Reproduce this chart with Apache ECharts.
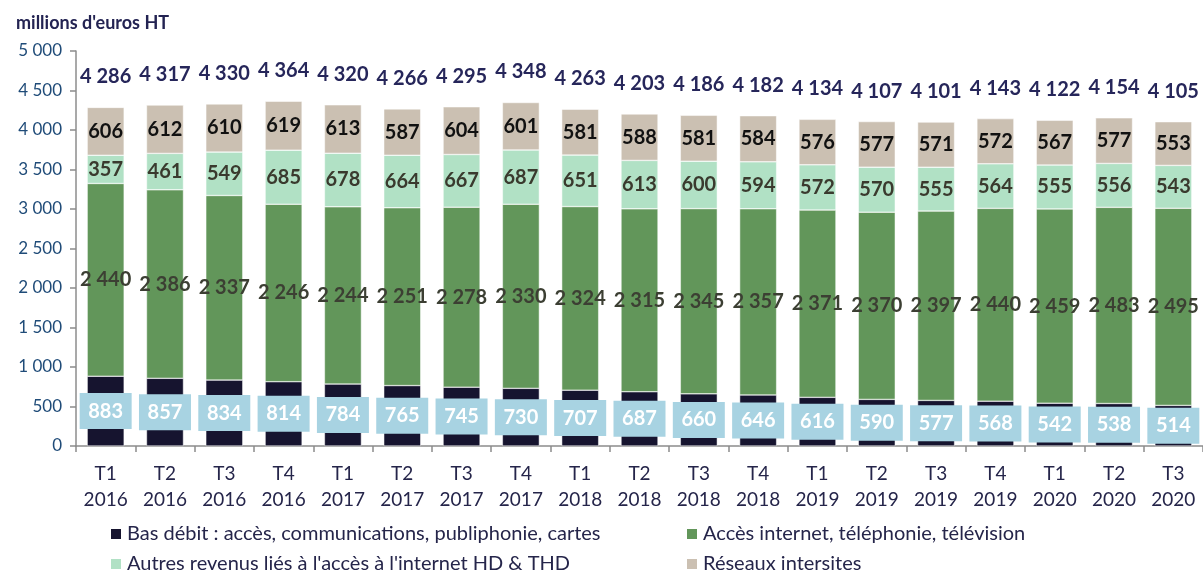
<!DOCTYPE html>
<html>
<head>
    <meta charset="utf-8" />
    <script src="https://cdn.jsdelivr.net/npm/echarts@6/dist/echarts.min.js"></script>
</head>
<body style="margin:0">
    <div id="main" style="width: 1203px; height: 574px;"></div>
    <script type="text/javascript">
        // données (millions d'euros HT)
        var categories = ['T1\n2016', 'T2\n2016', 'T3\n2016', 'T4\n2016', 'T1\n2017', 'T2\n2017', 'T3\n2017', 'T4\n2017',
            'T1\n2018', 'T2\n2018', 'T3\n2018', 'T4\n2018', 'T1\n2019', 'T2\n2019', 'T3\n2019', 'T4\n2019',
            'T1\n2020', 'T2\n2020', 'T3\n2020'];
        var basDebit = [883, 857, 834, 814, 784, 765, 745, 730, 707, 687, 660, 646, 616, 590, 577, 568, 542, 538, 514];
        var accesInternet = [2440, 2386, 2337, 2246, 2244, 2251, 2278, 2330, 2324, 2315, 2345, 2357, 2371, 2370, 2397, 2440, 2459, 2483, 2495];
        var autresRevenus = [357, 461, 549, 685, 678, 664, 667, 687, 651, 613, 600, 594, 572, 570, 555, 564, 555, 556, 543];
        var reseaux = [606, 612, 610, 619, 613, 587, 604, 601, 581, 588, 581, 584, 576, 577, 571, 572, 567, 577, 553];
        var totals = [4286, 4317, 4330, 4364, 4320, 4266, 4295, 4348, 4263, 4203, 4186, 4182, 4134, 4107, 4101, 4143, 4122, 4154, 4105];

        var names = ['Bas débit : accès, communications, publiphonie, cartes', 'Accès internet, téléphonie, télévision',
            "Autres revenus liés à l'accès à l'internet HD & THD", 'Réseaux intersites'];

        var FONT = 'Lato';

        function fmt(v) {
            return String(v).replace(/\B(?=(\d{3})+(?!\d))/g, ' ');
        }

        var myChart = echarts.init(document.getElementById('main'));

        function segment(name, data, color, labelColor, extra) {
            var label = {
                show: true,
                position: 'inside',
                fontFamily: FONT,
                fontWeight: 'bold',
                fontSize: 20,
                color: labelColor,
                formatter: function (p) { return fmt(p.value); }
            };
            if (extra) { for (var k in extra) label[k] = extra[k]; }
            return {
                name: name,
                type: 'bar',
                stack: 'total',
                barWidth: 37,
                itemStyle: { color: color, borderColor: '#ffffff', borderWidth: 0.5 },
                label: label,
                data: data
            };
        }

        // une légende par élément, placée en grille 2x2
        function legendItem(left, top, name) {
            return {
                left: left,
                top: top,
                padding: 0,
                itemWidth: 12,
                itemHeight: 12,
                icon: 'rect',
                textStyle: { fontFamily: FONT, fontSize: 20, color: '#25254a' },
                data: [name]
            };
        }

        var option = {
            animation: false,
            textStyle: { fontFamily: FONT },
            title: {
                text: "millions d'euros HT",
                left: 11,
                top: 9,
                textStyle: { fontFamily: FONT, fontSize: 18, fontWeight: 'bold', color: '#232352' }
            },
            legend: [
                legendItem(109, 524, names[0]),
                legendItem(685, 524, names[1]),
                legendItem(109, 554, names[2]),
                legendItem(685, 554, names[3])
            ],
            grid: {
                left: 76,
                top: 51,
                width: 1132,
                bottom: 128
            },
            xAxis: {
                type: 'category',
                data: categories,
                axisLine: { lineStyle: { color: '#8c8c8c', width: 1.5 } },
                axisTick: { show: true, length: 6, lineStyle: { color: '#8c8c8c', width: 1.5 } },
                axisLabel: {
                    fontFamily: FONT,
                    fontSize: 19,
                    color: '#25254a',
                    lineHeight: 26,
                    margin: 15
                }
            },
            yAxis: {
                type: 'value',
                min: 0,
                max: 5000,
                interval: 500,
                axisLine: { show: true, lineStyle: { color: '#8c8c8c', width: 1.5 } },
                axisTick: { show: true, length: 6, lineStyle: { color: '#8c8c8c', width: 1.5 } },
                splitLine: { show: false },
                axisLabel: {
                    fontFamily: FONT,
                    fontSize: 17,
                    color: '#1f4b78',
                    margin: 14,
                    formatter: function (v) { return fmt(v); }
                }
            },
            series: [
                segment(names[0], basDebit, '#16142f', '#ffffff', {
                    backgroundColor: '#a8d3e2',
                    padding: [8, 8],
                    width: 36,
                    align: 'center'
                }),
                segment(names[1], accesInternet, '#62965a', '#3c3f33'),
                segment(names[2], autresRevenus, '#b1e1c5', '#3a3a2e'),
                segment(names[3], reseaux, '#cbc0b2', '#111111'),
                {
                    name: 'Total',
                    type: 'line',
                    data: totals,
                    symbol: 'circle',
                    symbolSize: 1,
                    showSymbol: true,
                    itemStyle: { color: 'rgba(0,0,0,0)' },
                    lineStyle: { opacity: 0 },
                    silent: true,
                    label: {
                        show: true,
                        position: 'top',
                        distance: 20,
                        fontFamily: FONT,
                        fontWeight: 'bold',
                        fontSize: 20,
                        color: '#26265a',
                        formatter: function (p) { return fmt(p.value); }
                    }
                }
            ]
        };

        myChart.setOption(option);
    </script>
</body>
</html>
